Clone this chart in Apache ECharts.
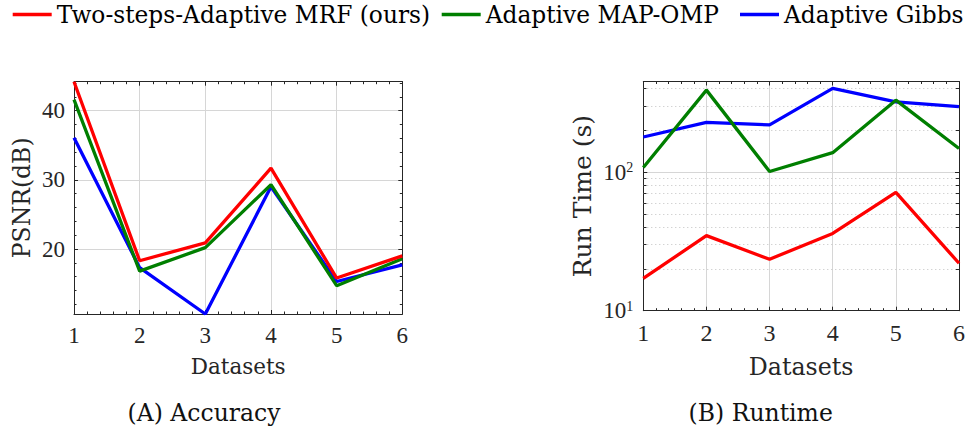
<!DOCTYPE html>
<html><head><meta charset="utf-8">
<script src="https://cdn.jsdelivr.net/npm/echarts@6/dist/echarts.min.js"></script>
<style>html,body{margin:0;padding:0;background:#fff}#c{width:970px;height:434px}</style>
</head><body><div id="c"></div>
<script>
const datasets = [1, 2, 3, 4, 5, 6];
const seriesNames = ['Two-steps-Adaptive MRF (ours)', 'Adaptive MAP-OMP', 'Adaptive Gibbs'];
const psnrMRF   = [44.2, 18.3, 20.9, 31.7, 15.8, 19.0];
const psnrOMP   = [41.6, 16.8, 20.2, 29.3, 14.7, 18.6];
const psnrGibbs = [36.1, 17.3, 10.6, 29.0, 15.3, 17.7];
const timeMRF   = [17.1, 34.8, 23.5, 36.1, 71.4, 22.0];
const timeOMP   = [108, 390, 101, 138, 330, 148];
const timeGibbs = [179, 228, 219, 401, 321, 296];
const psnrTicks = [20, 30, 40];
const timeTicks = [10, 100];
const timeMinorTicks = [20, 30, 40, 50, 60, 70, 80, 90, 200, 300, 400];

const RED = '#ff0000', GREEN = '#007f00', BLUE = '#0000ff';
const AX = '#262626', GRID = '#d6d6d6', MINOR = '#c0c0c0';
const NUMF = 'Liberation Serif', TXTF = 'DejaVu Serif';

const allPsnr = psnrMRF.concat(psnrOMP, psnrGibbs);
const psnrMin = Math.min.apply(null, allPsnr);
const psnrMax = Math.max.apply(null, allPsnr);
const timeMin = 10, timeMax = 450;

function pairs(arr) { return datasets.map((d, i) => [d, arr[i]]); }

function xAxisDef(grid, pos, main, fs, nameFs, nameGap) {
  return {
    type: 'value', gridIndex: grid, position: pos,
    min: datasets[0], max: datasets[datasets.length - 1], interval: 1,
    axisLine: { show: true, onZero: false, lineStyle: { color: AX, width: 1 } },
    axisTick: { show: true, inside: true, length: 4, lineStyle: { color: AX, width: 1 } },
    minorTick: { show: true, splitNumber: 5, length: 2.5, lineStyle: { color: AX, width: 1 } },
    splitLine: { show: main, lineStyle: { color: GRID, width: 1 } },
    axisLabel: { show: main, margin: 10, fontFamily: NUMF, fontSize: fs, color: AX },
    name: main ? 'Datasets' : '', nameLocation: 'middle', nameGap: nameGap,
    nameTextStyle: { fontFamily: TXTF, fontSize: nameFs, color: AX }
  };
}

function psnrY(pos, main) {
  return {
    type: 'value', gridIndex: 0, position: pos, min: psnrMin, max: psnrMax, splitNumber: 4,
    axisLine: { show: true, onZero: false, lineStyle: { color: AX, width: 1 } },
    axisTick: { show: true, inside: true, length: 4, lineStyle: { color: AX, width: 1 } },
    minorTick: { show: true, splitNumber: 5, length: 2.5, lineStyle: { color: AX, width: 1 } },
    splitLine: { show: main, lineStyle: { color: GRID, width: 1 } },
    axisLabel: {
      show: main, margin: 9, fontFamily: NUMF, fontSize: 23, color: AX,
      showMinLabel: false, showMaxLabel: false,
      formatter: v => psnrTicks.indexOf(Math.round(v * 1000) / 1000) >= 0 ? String(Math.round(v)) : ''
    },
    name: main ? 'PSNR(dB)' : '', nameLocation: 'middle', nameGap: 40,
    nameTextStyle: { fontFamily: TXTF, fontSize: 23.5, color: AX }
  };
}

function timeY(pos, main) {
  return {
    type: 'log', logBase: 10, gridIndex: 1, position: pos, min: timeMin, max: timeMax,
    axisLine: { show: true, onZero: false, lineStyle: { color: AX, width: 1 } },
    axisTick: { show: true, inside: true, length: 4, lineStyle: { color: AX, width: 1 } },
    minorTick: { show: false },
    splitLine: { show: main, lineStyle: { color: GRID, width: 1 } },
    axisLabel: {
      show: main, margin: 10, color: AX,
      formatter: v => {
        const e = Math.round(Math.log10(v));
        if (Math.abs(Math.log10(v) - e) > 1e-6 || timeTicks.indexOf(Math.pow(10, e)) < 0) return '';
        return '{b|10}{s|' + e + '}';
      },
      rich: {
        b: { fontFamily: NUMF, fontSize: 23, color: AX },
        s: { fontFamily: NUMF, fontSize: 14, color: AX, verticalAlign: 'top' }
      }
    },
    name: main ? 'Run Time (s)' : '', nameLocation: 'middle', nameGap: 48,
    nameTextStyle: { fontFamily: TXTF, fontSize: 25, color: AX }
  };
}

const minorMarks = [];
timeMinorTicks.forEach(v => {
  minorMarks.push({ yAxis: v });
  minorMarks.push([{ coord: [datasets[0], v], lineStyle: { type: 'solid', color: AX, width: 1 } }, { coord: [datasets[0] + 0.05, v] }]);
  minorMarks.push([{ coord: [datasets[datasets.length - 1] - 0.05, v], lineStyle: { type: 'solid', color: AX, width: 1 } }, { coord: [datasets[datasets.length - 1], v] }]);
});

function line(name, data, color, xi, yi, extra) {
  return Object.assign({
    name: name, type: 'line', xAxisIndex: xi, yAxisIndex: yi, data: pairs(data),
    symbol: 'none', showSymbol: false, clip: true,
    lineStyle: { color: color, width: 3.3 }, itemStyle: { color: color },
    emphasis: { disabled: true }, animation: false
  }, extra || {});
}

const legendLefts = [12.7, 441.7, 740];
const chart = echarts.init(document.getElementById('c'), null, { renderer: 'svg', width: 970, height: 434 });
chart.setOption({
  backgroundColor: '#ffffff',
  animation: false,
  title: [
    { text: '(A) Accuracy', left: 204, top: 401, textAlign: 'center', padding: 0,
      textStyle: { fontFamily: TXTF, fontSize: 23.5, fontWeight: 'normal', color: '#111' } },
    { text: '(B) Runtime', left: 760.7, top: 401, textAlign: 'center', padding: 0,
      textStyle: { fontFamily: TXTF, fontSize: 23.5, fontWeight: 'normal', color: '#111' } }
  ],
  legend: seriesNames.map((n, i) => ({
    data: [n], left: legendLefts[i], top: 3, icon: 'rect', itemWidth: 39, itemHeight: 3.3,
    padding: 0, itemGap: 0, selectedMode: false,
    textStyle: { fontFamily: TXTF, fontSize: 23.3, color: '#000' }
  })),
  grid: [
    { left: 74, top: 81.7, width: 328.3, height: 232.3, containLabel: false },
    { left: 643.3, top: 81.5, width: 315.7, height: 229.2, containLabel: false }
  ],
  xAxis: [
    xAxisDef(0, 'bottom', true, 23, 21.5, 41),
    xAxisDef(0, 'top', false, 23, 21.5, 41),
    xAxisDef(1, 'bottom', true, 24, 23.7, 44),
    xAxisDef(1, 'top', false, 24, 23.7, 44)
  ],
  yAxis: [psnrY('left', true), psnrY('right', false), timeY('left', true), timeY('right', false)],
  series: [
    line(seriesNames[2], psnrGibbs, BLUE, 0, 0),
    line(seriesNames[1], psnrOMP, GREEN, 0, 0),
    line(seriesNames[0], psnrMRF, RED, 0, 0),
    line(seriesNames[2], timeGibbs, BLUE, 2, 2, {
      markLine: {
        silent: true, symbol: ['none', 'none'], animation: false, z: 1,
        label: { show: false }, emphasis: { disabled: true },
        lineStyle: { type: [1, 3], color: MINOR, width: 1 },
        data: minorMarks
      }
    }),
    line(seriesNames[1], timeOMP, GREEN, 2, 2),
    line(seriesNames[0], timeMRF, RED, 2, 2)
  ]
});
</script></body></html>
